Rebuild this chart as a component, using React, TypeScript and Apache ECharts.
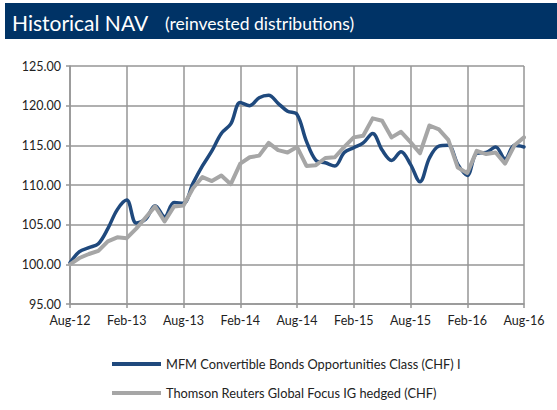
import React, { useEffect, useRef } from 'react';
import * as echarts from 'echarts';

const months = ['Aug-12','Sep-12','Oct-12','Nov-12','Dec-12','Jan-13','Feb-13','Mar-13','Apr-13','May-13','Jun-13','Jul-13','Aug-13','Sep-13','Oct-13','Nov-13','Dec-13','Jan-14','Feb-14','Mar-14','Apr-14','May-14','Jun-14','Jul-14','Aug-14','Sep-14','Oct-14','Nov-14','Dec-14','Jan-15','Feb-15','Mar-15','Apr-15','May-15','Jun-15','Jul-15','Aug-15','Sep-15','Oct-15','Nov-15','Dec-15','Jan-16','Feb-16','Mar-16','Apr-16','May-16','Jun-16','Jul-16','Aug-16'];

const mfmName = 'MFM Convertible Bonds Opportunities Class (CHF) I';
const mfm = [100.2,101.6,102.1,102.6,104.5,106.9,108.1,105.2,105.7,107.4,106.0,107.8,107.7,110.2,112.4,114.3,116.5,117.7,120.4,120.0,121.0,121.3,120.3,119.3,118.9,115.5,113.1,112.8,112.4,114.1,114.7,115.3,116.5,114.4,113.1,114.2,112.6,110.4,113.4,114.9,115.0,112.6,111.2,114.0,114.1,114.8,113.3,115.0,114.8];

const trName = 'Thomson Reuters Global Focus IG hedged (CHF)';
const tr = [100.0,100.8,101.3,101.7,102.9,103.4,103.3,104.5,105.9,107.3,105.4,107.3,107.4,109.6,111.0,110.5,111.2,110.1,112.7,113.5,113.7,115.3,114.4,114.1,114.8,112.4,112.5,113.4,113.5,114.8,116.0,116.2,118.4,118.1,116.0,116.7,115.4,114.0,117.5,117.0,115.7,112.2,111.5,114.3,113.9,114.1,112.7,115.0,116.0];

const yMin = 95;
const yMax = 125;
const yStep = 5;

const FONT = 'Lato, "Open Sans", sans-serif';
const GRID = '#969696';

export default function App() {
  const ref = useRef<HTMLDivElement>(null);
  useEffect(() => {
    if (!ref.current) return;
    const chart = echarts.init(ref.current, null, { renderer: 'svg' });
    chart.setOption({
      animation: false,
      backgroundColor: '#ffffff',
      textStyle: { fontFamily: FONT },
      graphic: [
        { type: 'rect', shape: { x: 5, y: 3, width: 552, height: 36 }, style: { fill: '#003366' } },
        { type: 'text', x: 12, y: 22, style: { text: 'Historical NAV', fill: '#ffffff', fontSize: 21, fontFamily: FONT, verticalAlign: 'middle' } },
        { type: 'text', x: 165, y: 23, style: { text: '(reinvested distributions)', fill: '#ffffff', fontSize: 17.5, fontFamily: FONT, verticalAlign: 'middle' } },
      ],
      grid: { left: 70, right: 33, top: 66, bottom: 106, containLabel: false },
      legend: {
        orient: 'vertical',
        left: 112,
        top: 356,
        height: 50,
        padding: 0,
        icon: 'rect',
        itemWidth: 49,
        itemHeight: 4,
        itemGap: 13,
        textStyle: { fontSize: 12.8, color: '#222', fontFamily: FONT, lineHeight: 16 },
        data: [mfmName, trName],
      },
      xAxis: {
        type: 'category',
        data: months,
        boundaryGap: false,
        axisLine: { lineStyle: { color: GRID, width: 1.5 } },
        axisTick: { show: true, interval: 5, length: 4, lineStyle: { color: GRID, width: 1.5 } },
        axisLabel: { interval: 5, color: '#222', fontSize: 12.5, margin: 10, fontFamily: FONT },
        splitLine: { show: true, interval: 5, lineStyle: { color: GRID, width: 1.5 } },
      },
      yAxis: {
        type: 'value',
        min: yMin,
        max: yMax,
        interval: yStep,
        axisLine: { show: true, lineStyle: { color: GRID, width: 1.5 } },
        axisTick: { show: true, length: 4, lineStyle: { color: GRID, width: 1.5 } },
        axisLabel: { color: '#222', fontSize: 12.5, margin: 9, fontFamily: FONT, formatter: (v: number) => v.toFixed(2) },
        splitLine: { show: true, lineStyle: { color: GRID, width: 1.5 } },
      },
      series: [
        {
          name: mfmName,
          type: 'line',
          data: mfm,
          showSymbol: false,
          smooth: 0.35,
          lineStyle: { color: '#1F497D', width: 3.5, cap: 'round', join: 'round' },
          itemStyle: { color: '#1F497D' },
        },
        {
          name: trName,
          type: 'line',
          data: tr,
          showSymbol: false,
          smooth: false,
          lineStyle: { color: '#A6A6A6', width: 4, cap: 'round', join: 'round' },
          itemStyle: { color: '#A6A6A6' },
        },
      ],
    });
    return () => chart.dispose();
  }, []);
  return <div ref={ref} style={{ position: 'fixed', left: 0, top: 0, width: 557, height: 410 }} />;
}
